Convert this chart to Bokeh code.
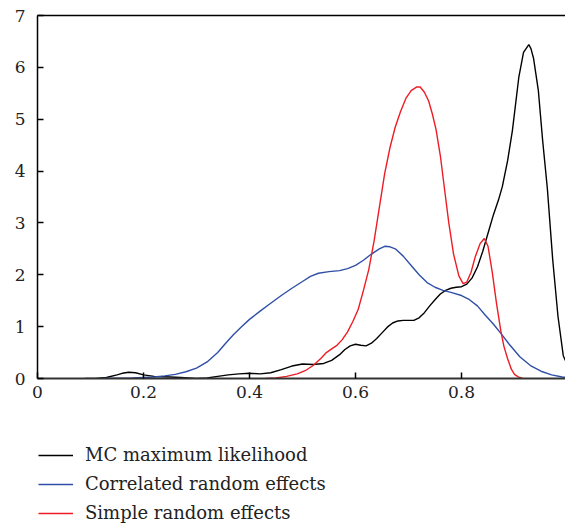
from bokeh.plotting import figure
from bokeh.models import Range1d, LinearAxis, FixedTicker, Legend, LegendItem
from bokeh.layouts import column
from bokeh.embed import file_html
from bokeh.resources import INLINE

# MC maximum likelihood
ml_x = [0.09, 0.11, 0.13, 0.15, 0.16, 0.172, 0.185, 0.2, 0.22, 0.25, 0.27, 0.3, 0.32, 0.34,
        0.36, 0.38, 0.40, 0.42, 0.44, 0.46, 0.48, 0.50, 0.52, 0.54, 0.555, 0.57, 0.58, 0.59,
        0.60, 0.61, 0.62, 0.63, 0.64, 0.65, 0.66, 0.67, 0.68, 0.69, 0.70, 0.71, 0.72, 0.73,
        0.74, 0.75, 0.76, 0.77, 0.78, 0.79, 0.80, 0.81, 0.82, 0.83, 0.84, 0.85, 0.86, 0.87,
        0.877, 0.887, 0.896, 0.908, 0.917, 0.927, 0.931, 0.936, 0.945, 0.953, 0.962, 0.972,
        0.982, 0.992, 0.998]
ml_y = [0.0, 0.0, 0.02, 0.07, 0.1, 0.12, 0.11, 0.07, 0.04, 0.03, 0.02, 0.0, 0.01, 0.04,
        0.07, 0.09, 0.10, 0.09, 0.11, 0.17, 0.24, 0.28, 0.27, 0.29, 0.35, 0.46, 0.56, 0.63,
        0.66, 0.64, 0.63, 0.68, 0.77, 0.88, 0.99, 1.07, 1.11, 1.12, 1.12, 1.12, 1.17, 1.27,
        1.40, 1.52, 1.63, 1.70, 1.74, 1.76, 1.77, 1.82, 1.94, 2.15, 2.45, 2.8, 3.15, 3.45,
        3.7, 4.2, 4.78, 5.8, 6.29, 6.44, 6.36, 6.17, 5.55, 4.6, 3.66, 2.3,
        1.2, 0.44, 0.3]

# Correlated random effects
cr_x = [0.12, 0.15, 0.18, 0.2, 0.22, 0.24, 0.26, 0.28, 0.30, 0.32, 0.34, 0.355, 0.37, 0.385,
        0.40, 0.42, 0.44, 0.46, 0.48, 0.50, 0.515, 0.53, 0.55, 0.57, 0.585, 0.60, 0.615,
        0.63, 0.645, 0.655, 0.665, 0.675, 0.69, 0.705, 0.72, 0.735, 0.75, 0.765, 0.78, 0.80,
        0.815, 0.83, 0.845, 0.86, 0.875, 0.89, 0.91, 0.93, 0.95, 0.97, 0.99, 1.0]
cr_y = [0.0, 0.005, 0.01, 0.02, 0.03, 0.05, 0.08, 0.13, 0.2, 0.32, 0.5, 0.68, 0.85, 1.0,
        1.14, 1.3, 1.45, 1.6, 1.74, 1.87, 1.97, 2.03, 2.06, 2.08, 2.12, 2.18, 2.28,
        2.40, 2.50, 2.55, 2.54, 2.5, 2.36, 2.18, 2.0, 1.85, 1.76, 1.70, 1.66, 1.6,
        1.52, 1.40, 1.22, 1.05, 0.86, 0.66, 0.42, 0.25, 0.14, 0.07, 0.03, 0.02]

# Simple random effects
sr_x = [0.43, 0.45, 0.47, 0.49, 0.505, 0.52, 0.535, 0.545, 0.555, 0.565, 0.575, 0.585,
        0.595, 0.605, 0.615, 0.625, 0.635, 0.645, 0.655, 0.665, 0.675, 0.685, 0.695, 0.705,
        0.715, 0.722, 0.73, 0.738, 0.745, 0.752, 0.76, 0.768, 0.776, 0.785, 0.795, 0.803,
        0.81, 0.818, 0.826, 0.835, 0.843, 0.85, 0.858, 0.866, 0.874, 0.88, 0.887, 0.894,
        0.9, 0.907, 0.915]
sr_y = [0.0, 0.01, 0.04, 0.09, 0.15, 0.25, 0.39, 0.5, 0.57, 0.64, 0.75, 0.9,
        1.1, 1.33, 1.7, 2.1, 2.65, 3.3, 3.95, 4.45, 4.85, 5.15, 5.4, 5.55,
        5.62, 5.62, 5.52, 5.35, 5.1, 4.8, 4.3, 3.65, 3.0, 2.4, 1.98, 1.83,
        1.86, 2.05, 2.35, 2.6, 2.7, 2.55, 2.05, 1.45, 0.93, 0.62, 0.38, 0.18,
        0.08, 0.03, 0.0]

x_ticks = [0, 0.2, 0.4, 0.6, 0.8]
x_tick_labels = {0: "0", 0.2: "0.2", 0.4: "0.4", 0.6: "0.6", 0.8: "0.8"}
y_ticks = [0, 1, 2, 3, 4, 5, 6, 7]
series_names = ["MC maximum likelihood", "Correlated random effects", "Simple random effects"]
series_colors = ["black", "#2f4fa8", "#ee1c24"]
series_x = [ml_x, cr_x, sr_x]
series_y = [ml_y, cr_y, sr_y]

FONT = "DejaVu Serif"

p = figure(width=565, height=420, output_backend="svg", toolbar_location=None,
           x_range=Range1d(0, 0.9962), y_range=Range1d(0, 7),
           min_border_left=37, min_border_right=0, min_border_top=15, min_border_bottom=42)
p.xgrid.visible = False
p.ygrid.visible = False
p.outline_line_color = None

for ax in (p.xaxis[0], p.yaxis[0]):
    ax.major_tick_out = 0
    ax.major_tick_in = 6
    ax.minor_tick_in = 0
    ax.minor_tick_out = 0
    ax.major_tick_line_color = "black"
    ax.major_tick_line_width = 1.5
    ax.major_label_text_font = FONT
    ax.major_label_text_font_size = "17px"
    ax.major_label_text_color = "#222222"

p.xaxis[0].ticker = FixedTicker(ticks=x_ticks)
p.xaxis[0].major_label_overrides = x_tick_labels
p.xaxis[0].axis_line_color = "#333333"
p.xaxis[0].axis_line_width = 2
p.xaxis[0].major_label_standoff = 7
p.yaxis[0].ticker = FixedTicker(ticks=y_ticks)
p.yaxis[0].axis_line_color = "black"
p.yaxis[0].axis_line_width = 1.5
p.yaxis[0].major_label_standoff = 12

top = LinearAxis(ticker=FixedTicker(ticks=[]), major_label_text_font_size="0px",
                 major_tick_line_color=None, minor_tick_line_color=None,
                 axis_line_color="black", axis_line_width=1.5)
p.add_layout(top, "above")

for xs, ys, col in zip(series_x, series_y, series_colors):
    p.line(xs, ys, line_color=col, line_width=1.4)

# legend panel below the chart (its series sit outside its visible range)
lg = figure(width=565, height=107, output_backend="svg", toolbar_location=None,
            x_range=Range1d(10, 11), y_range=Range1d(10, 11),
            x_axis_type=None, y_axis_type=None,
            min_border_left=37, min_border_right=0, min_border_top=0, min_border_bottom=0)
lg.xgrid.visible = False
lg.ygrid.visible = False
lg.outline_line_color = None
items = []
for name, xs, ys, col in zip(series_names, series_x, series_y, series_colors):
    r = lg.line(xs, ys, line_color=col, line_width=1.4)
    items.append(LegendItem(label=name, renderers=[r]))

legend = Legend(items=items, location=(1, 4), padding=0, margin=0, spacing=8,
                glyph_width=35, glyph_height=20, label_height=20, label_standoff=12,
                border_line_color=None, background_fill_alpha=0,
                label_text_font=FONT, label_text_font_size="18px",
                label_text_color="#222222")
lg.add_layout(legend, "center")

open("out.html", "w").write(file_html(column(p, lg, spacing=0), INLINE))
